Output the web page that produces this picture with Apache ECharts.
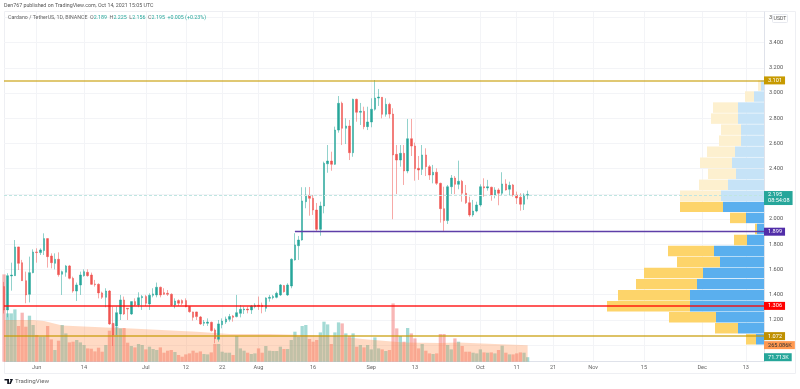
<!DOCTYPE html>
<html>
<head>
<meta charset="utf-8">
<title>Cardano / TetherUS</title>
<script src="https://cdn.jsdelivr.net/npm/echarts@6/dist/echarts.min.js"></script>
<style>
  html, body { margin: 0; padding: 0; background: #fff; }
  #chart { width: 800px; height: 389px; }
</style>
</head>
<body>
<div id="chart"></div>
<script>
// open, close, low, high - one row per day, first row is May 23
var candles = [
  [1.463,1.278,1.250,1.500],[1.278,1.550,1.220,1.569],[1.548,1.555,1.431,1.653],[1.550,1.778,1.548,1.833],[1.778,1.648,1.595,1.780],
  [1.653,1.510,1.508,1.675],[1.510,1.397,1.331,1.582],[1.402,1.574,1.338,1.701],[1.574,1.738,1.569,1.759],[1.738,1.733,1.653,1.767],
  [1.733,1.754,1.714,1.767],[1.749,1.844,1.714,1.886],[1.844,1.701,1.614,1.846],[1.706,1.653,1.608,1.727],[1.648,1.680,1.600,1.727],
  [1.680,1.558,1.542,1.735],[1.561,1.582,1.397,1.590],[1.577,1.627,1.542,1.635],[1.627,1.529,1.521,1.635],[1.529,1.428,1.415,1.542],
  [1.428,1.476,1.349,1.495],[1.476,1.555,1.397,1.582],[1.550,1.582,1.542,1.600],[1.577,1.550,1.542,1.600],[1.555,1.481,1.476,1.574],
  [1.484,1.479,1.463,1.516],[1.481,1.413,1.370,1.489],[1.413,1.378,1.365,1.423],[1.378,1.428,1.299,1.450],[1.428,1.167,1.159,1.436],
  [1.172,1.079,0.992,1.304],[1.151,1.256,1.079,1.304],[1.246,1.357,1.198,1.397],[1.357,1.246,1.238,1.384],[1.291,1.285,1.198,1.291],
  [1.246,1.344,1.238,1.344],[1.344,1.317,1.309,1.370],[1.317,1.375,1.299,1.418],[1.375,1.384,1.278,1.397],[1.384,1.331,1.309,1.397],
  [1.325,1.394,1.278,1.410],[1.394,1.405,1.378,1.450],[1.397,1.458,1.378,1.495],[1.458,1.397,1.378,1.463],[1.415,1.402,1.397,1.450],
  [1.410,1.402,1.389,1.436],[1.402,1.317,1.309,1.410],[1.317,1.349,1.291,1.370],[1.352,1.331,1.309,1.362],[1.352,1.331,1.317,1.362],
  [1.352,1.304,1.299,1.370],[1.304,1.264,1.256,1.309],[1.262,1.219,1.193,1.264],[1.262,1.225,1.198,1.264],[1.222,1.167,1.159,1.230],
  [1.172,1.180,1.151,1.198],[1.172,1.182,1.151,1.211],[1.180,1.114,1.106,1.185],[1.119,1.050,1.013,1.132],[1.045,1.167,1.026,1.198],
  [1.161,1.190,1.132,1.211],[1.182,1.206,1.167,1.225],[1.203,1.225,1.185,1.246],[1.230,1.219,1.185,1.238],[1.225,1.256,1.219,1.397],
  [1.251,1.283,1.219,1.317],[1.278,1.285,1.246,1.304],[1.285,1.278,1.251,1.304],[1.278,1.309,1.246,1.317],[1.304,1.315,1.291,1.331],
  [1.315,1.307,1.278,1.384],[1.315,1.304,1.251,1.336],[1.291,1.373,1.264,1.378],[1.370,1.378,1.344,1.397],[1.375,1.384,1.362,1.397],
  [1.378,1.410,1.370,1.423],[1.397,1.476,1.389,1.484],[1.471,1.423,1.415,1.476],[1.397,1.476,1.389,1.490],[1.468,1.680,1.450,1.688],
  [1.675,1.794,1.669,1.887],[1.788,1.833,1.675,1.865],[1.833,2.143,1.828,2.252],[2.137,2.190,2.085,2.252],[2.187,2.164,2.026,2.254],
  [2.164,2.071,2.032,2.190],[2.071,1.918,1.899,2.127],[1.918,2.103,1.867,2.137],[2.103,2.442,2.045,2.455],[2.438,2.460,2.367,2.587],
  [2.460,2.434,2.383,2.534],[2.434,2.706,2.429,2.733],[2.706,2.918,2.685,2.976],[2.918,2.720,2.587,2.931],[2.720,2.738,2.595,2.799],
  [2.738,2.526,2.468,2.786],[2.526,2.950,2.494,2.955],[2.950,2.847,2.772,2.955],[2.847,2.855,2.746,2.921],[2.855,2.733,2.712,2.891],
  [2.733,2.770,2.706,2.891],[2.770,2.871,2.728,2.958],[2.871,2.960,2.860,3.103],[2.960,2.968,2.897,3.032],[2.966,2.831,2.799,2.968],
  [2.831,2.910,2.812,2.958],[2.910,2.833,2.799,2.923],[2.833,2.508,1.998,2.879],[2.513,2.468,2.198,2.587],[2.468,2.521,2.415,2.587],
  [2.521,2.381,2.270,2.587],[2.381,2.637,2.363,2.794],[2.637,2.579,2.500,2.794],[2.579,2.399,2.304,2.606],[2.402,2.389,2.310,2.500],
  [2.394,2.508,2.349,2.587],[2.508,2.415,2.341,2.561],[2.415,2.349,2.310,2.429],[2.349,2.371,2.283,2.429],[2.371,2.283,2.270,2.402],
  [2.283,2.082,1.971,2.288],[2.082,1.987,1.905,2.256],[1.987,2.256,1.960,2.270],[2.256,2.325,2.198,2.349],[2.325,2.275,2.198,2.341],
  [2.275,2.299,2.236,2.463],[2.299,2.204,2.137,2.310],[2.204,2.129,2.119,2.270],[2.129,2.032,2.018,2.177],[2.032,2.063,2.018,2.151],
  [2.063,2.111,2.053,2.137],[2.111,2.256,2.098,2.275],[2.256,2.246,2.177,2.323],[2.246,2.256,2.225,2.310],[2.252,2.190,2.145,2.256],
  [2.190,2.230,2.164,2.252],[2.230,2.204,2.109,2.244],[2.204,2.278,2.183,2.371],[2.278,2.230,2.225,2.315],[2.236,2.267,2.190,2.296],
  [2.270,2.190,2.177,2.278],[2.190,2.167,2.119,2.217],[2.172,2.117,2.066,2.204],[2.117,2.190,2.071,2.204],[2.189,2.195,2.156,2.225]
];

// volume in thousands
var volumes = [
  1397,773,773,837,571,784,560,736,587,427,400,400,571,357,187,336,587,453,309,320,
  347,309,267,213,208,165,224,160,267,496,613,560,533,539,304,251,229,283,267,197,
  240,203,187,229,144,176,187,155,107,80,117,133,176,144,165,123,117,149,283,283,
  160,144,144,107,411,213,176,144,123,133,213,144,251,176,171,171,240,203,203,347,
  480,400,571,587,363,320,347,469,640,597,283,469,629,613,453,411,453,240,267,229,
  267,197,389,213,197,171,187,933,533,411,320,539,453,373,213,283,176,133,123,133,
  443,443,267,197,373,320,251,160,160,144,133,197,149,144,149,133,187,256,144,117,
  117,133,149,144,72
];

// volume average, read at the days where its slope changes
var volumeAvgDays = [0, 8, 11, 16, 28, 35, 53, 62, 73, 90, 100, 110, 120, 125, 135, 144];
var volumeAvg = [667, 667, 651, 581, 549, 533, 480, 443, 443, 416, 357, 309, 299, 309, 283, 265];

// visible range volume rows, top row first
var profileRows = ['3.06','2.97','2.88','2.80','2.71','2.62','2.54','2.45','2.36','2.27','2.18','2.10','2.01','1.92','1.84','1.75','1.66','1.58','1.49','1.40','1.31','1.23','1.14','1.05'];
var profileUp = [3,10,26,26,23,23,29,32,28,36,43,41,18,7,17,50,44,61,67,74,74,48,26,8];
var profileDown = [3,9,25,27,20,22,28,32,28,29,41,43,16,2,13,46,43,59,61,72,83,47,23,10];

var priceTicks = [3.6,3.4,3.2,3.0,2.8,2.6,2.4,2.2,2.0,1.8,1.6,1.4,1.2,1.0];
var priceLabels = [3.6,3.4,3.2,3.0,2.8,2.6,2.4,2.0,1.8,1.6,1.4,1.2];

var timeLabels = {
  '2021-06-01': 'Jun', '2021-06-14': '14', '2021-07-01': 'Jul', '2021-07-12': '12', '2021-07-22': '22',
  '2021-08-01': 'Aug', '2021-08-16': '16', '2021-09-01': 'Sep', '2021-09-13': '13', '2021-10-01': 'Oct',
  '2021-10-11': '11', '2021-10-21': '21', '2021-11-01': 'Nov', '2021-11-15': '15', '2021-12-01': 'Dec', '2021-12-13': '13'
};

var firstDay = Date.UTC(2021, 4, 23);
var dayCount = 210;
var days = [];
for (var d = 0; d < dayCount; d++) {
  days.push(new Date(firstDay + d * 86400000).toISOString().slice(0, 10));
}

var UP = '#26a69a', DOWN = '#ef5350';
var fontFamily = 'Roboto, sans-serif';
var smallFont = 5.6;

function isLabelDay(index, value) {
  return timeLabels[value] !== undefined;
}

function badge(text, color, textColor, extra) {
  var out = {
    show: true,
    position: 'end',
    distance: 0,
    color: textColor || '#fff',
    backgroundColor: color,
    fontFamily: fontFamily,
    fontSize: smallFont,
    padding: [1, 3, 1, 4],
    formatter: text
  };
  for (var key in extra) out[key] = extra[key];
  return out;
}

function levelLine(value, text, color, width, labelColor) {
  return {
    yAxis: value,
    lineStyle: { color: color, width: width, type: 'solid' },
    label: badge(text, labelColor, '#fff')
  };
}

var chart = echarts.init(document.getElementById('chart'));

chart.setOption({
  animation: false,
  backgroundColor: '#fff',
  textStyle: { fontFamily: fontFamily },
  title: [{
    text: 'Den767 published on TradingView.com, Oct 14, 2021 15:05 UTC',
    left: 4, top: 3.5, padding: 0,
    textStyle: { color: '#555', fontSize: 5.3, fontWeight: 'normal', fontFamily: fontFamily }
  }, {
    text: '{d|Cardano / TetherUS, 1D, BINANCE  O}{u|2.189}{d|  H}{u|2.225}{d|  L}{u|2.156}{d|  C}{u|2.195}{u|  +0.005 (+0.23%)}',
    left: 8, top: 15, padding: 0,
    textStyle: {
      fontSize: 5.3, fontWeight: 'normal', fontFamily: fontFamily,
      rich: {
        d: { color: '#666', fontSize: 5.3, fontFamily: fontFamily },
        u: { color: UP, fontSize: 5.3, fontFamily: fontFamily }
      }
    }
  }],
  grid: [
    { left: 4, right: 36, top: 12, bottom: 27.3, containLabel: false },
    { left: 4, right: 36, top: 80, height: 264.8 }
  ],
  xAxis: [{
    type: 'category',
    gridIndex: 0,
    data: days,
    boundaryGap: false,
    axisLine: { lineStyle: { color: '#dfe2ea' } },
    axisTick: { show: false },
    axisLabel: {
      interval: isLabelDay,
      margin: 3,
      color: '#666',
      fontSize: smallFont,
      fontFamily: fontFamily,
      hideOverlap: false,
      formatter: function (value) { return timeLabels[value] || ''; }
    },
    splitLine: { show: true, interval: isLabelDay, lineStyle: { color: '#f3f4f7', width: 1 } }
  }, {
    type: 'value',
    gridIndex: 1,
    inverse: true,
    min: 0,
    max: 760,
    show: false
  }],
  yAxis: [{
    type: 'value',
    gridIndex: 0,
    position: 'right',
    min: 0.867,
    max: 3.643,
    axisLine: { show: true, lineStyle: { color: '#dfe2ea' } },
    axisTick: { show: false, customValues: priceTicks },
    axisLabel: {
      customValues: priceLabels,
      margin: 5,
      color: '#555',
      fontSize: smallFont,
      fontFamily: fontFamily,
      formatter: function (value) { return value.toFixed(3); }
    },
    splitLine: { show: true, lineStyle: { color: '#f3f4f7', width: 1 } }
  }, {
    type: 'value',
    gridIndex: 0,
    min: 0,
    max: 5595,
    show: false,
    splitLine: { show: false }
  }, {
    type: 'category',
    gridIndex: 1,
    inverse: true,
    data: profileRows,
    show: false
  }],
  series: [{
    name: 'Volume',
    type: 'bar',
    xAxisIndex: 0,
    yAxisIndex: 1,
    barWidth: 3.3,
    z: 2,
    silent: true,
    data: volumes,
    itemStyle: {
      color: function (p) {
        var c = candles[p.dataIndex];
        return c[1] >= c[0] ? 'rgba(38,166,154,0.42)' : 'rgba(239,83,80,0.42)';
      }
    },
    markLine: {
      silent: true,
      symbol: 'none',
      lineStyle: { color: 'transparent', width: 0 },
      data: [{
        yAxis: 265.086,
        label: badge('265.086K', '#ff9850', '#333')
      }, {
        yAxis: 71.713,
        label: badge('71.713K', '#26a69a', '#fff')
      }]
    }
  }, {
    name: 'Volume MA',
    type: 'line',
    xAxisIndex: 0,
    yAxisIndex: 1,
    z: 3,
    silent: true,
    symbol: 'none',
    lineStyle: { width: 0 },
    areaStyle: { color: 'rgba(255,140,70,0.46)' },
    data: volumeAvgDays.map(function (day, i) { return [day, volumeAvg[i]]; })
  }, {
    name: 'Profile up',
    type: 'bar',
    xAxisIndex: 1,
    yAxisIndex: 2,
    stack: 'profile',
    barWidth: '95%',
    z: 1,
    silent: true,
    data: profileUp,
    itemStyle: {
      color: function (p) { return p.dataIndex <= 10 ? '#c6e3f7' : '#5aafee'; }
    }
  }, {
    name: 'Profile down',
    type: 'bar',
    xAxisIndex: 1,
    yAxisIndex: 2,
    stack: 'profile',
    barWidth: '95%',
    z: 1,
    silent: true,
    data: profileDown,
    itemStyle: {
      color: function (p) { return p.dataIndex <= 10 ? '#fdf0cf' : '#fdd46a'; }
    }
  }, {
    name: 'ADA/USDT',
    type: 'candlestick',
    xAxisIndex: 0,
    yAxisIndex: 0,
    barWidth: 2,
    z: 4,
    silent: true,
    data: candles,
    itemStyle: {
      color: UP,
      color0: DOWN,
      borderColor: 'rgba(38,166,154,0.5)',
      borderColor0: 'rgba(239,83,80,0.5)',
      borderWidth: 1
    },
    markLine: {
      silent: true,
      symbol: 'none',
      data: [
        levelLine(3.101, '3.101', 'rgba(199,154,0,0.55)', 2, '#c79a00'),
        {
          yAxis: 2.195,
          lineStyle: { color: '#bfe6e1', width: 1, type: [3, 2] },
          label: badge('2.195\n08:54:08', '#26a69a', '#fff', { offset: [0, 3], lineHeight: 6 })
        },
        [{
          coord: [days[80], 1.899],
          lineStyle: { color: '#5e3fa8', width: 1.4, type: 'solid' },
          label: badge('1.899', '#512da8', '#fff')
        }, {
          coord: [days[209], 1.899]
        }],
        levelLine(1.306, '1.306', 'rgba(255,0,0,0.65)', 2, '#ff0000'),
        levelLine(1.072, '1.072', 'rgba(199,154,0,0.6)', 2, '#bf9000')
      ]
    }
  }],
  graphic: [{
    type: 'rect',
    z: 0,
    silent: true,
    shape: { x: 4.5, y: 11.5, width: 791, height: 362 },
    style: { fill: 'none', stroke: '#eeeff3', lineWidth: 1 }
  }, {
    type: 'rect',
    z: 100,
    silent: true,
    shape: { x: 772.5, y: 14.5, width: 15, height: 8, r: 1 },
    style: { fill: '#fff', stroke: '#e6e8ee', lineWidth: 1 }
  }, {
    type: 'text',
    z: 101,
    silent: true,
    style: { x: 780, y: 18.5, text: 'USDT', align: 'center', verticalAlign: 'middle', fill: '#555', fontSize: 5.2, fontFamily: fontFamily }
  }, {
    type: 'polygon',
    z: 100,
    silent: true,
    shape: { points: [[4.5, 379], [9, 379], [9, 384], [7.2, 384], [7.2, 380.6], [4.5, 380.6]] },
    style: { fill: '#131722' }
  }, {
    type: 'polygon',
    z: 100,
    silent: true,
    shape: { points: [[9.8, 379], [13, 379], [10.8, 384], [9, 384], [10.6, 380.6]] },
    style: { fill: '#131722' }
  }, {
    type: 'text',
    z: 100,
    silent: true,
    style: { x: 15, y: 381.5, text: 'TradingView', verticalAlign: 'middle', fill: '#666', fontSize: 6.2, fontFamily: fontFamily }
  }]
});
</script>
</body>
</html>
